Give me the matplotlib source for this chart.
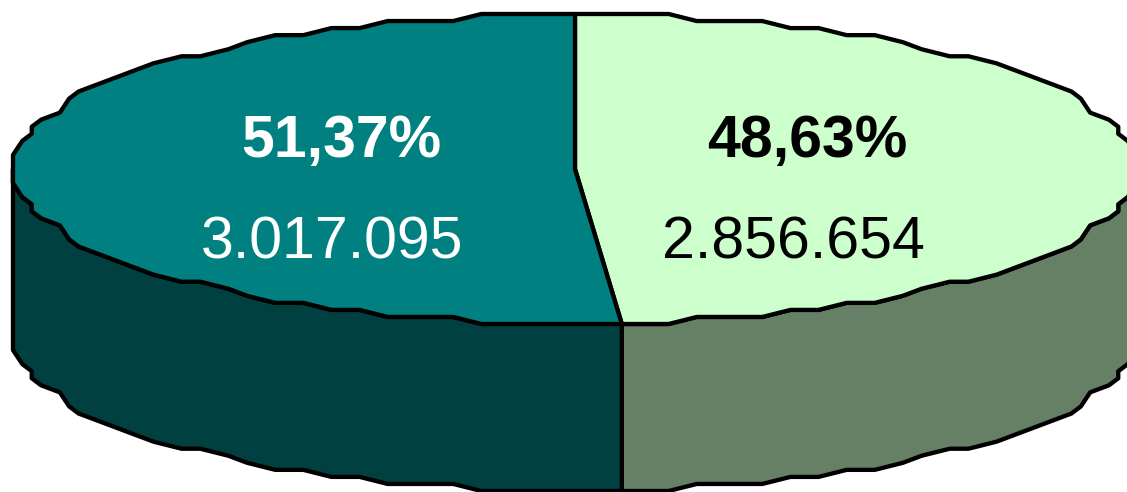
import numpy as np
import matplotlib
matplotlib.use("Agg")
import matplotlib.pyplot as plt

categories = ["A", "B"]
values = [2856654, 3017095]
percent_labels = ["48,63%", "51,37%"]
value_labels = ["2.856.654", "3.017.095"]
top_colors = ["#CCFFCC", "#008080"]
side_colors = ["#668066", "#004040"]
text_colors = ["black", "white"]

plt.rcParams["font.family"] = ["Liberation Sans", "DejaVu Sans"]
fig = plt.figure(figsize=(11.27, 4.92), dpi=100)
ax = fig.add_axes([0, 0, 1, 1])
ax.set_xlim(0, 1127)
ax.set_ylim(492, 0)
ax.axis("off")

cx, cy, rx, ry, depth = 575, 169, 562, 155, 167
lw = 3.1
step = 2 * np.pi / 112   # coarse polygon, as in the low-resolution original
grid_x, grid_y = rx / 60, 2 * ry / 44


def rim(a0, a1):
    """Clockwise angle from the top, projected on to the tilted disc and
    snapped to a coarse pixel grid to keep the original's jagged outline."""
    k0, k1 = int(np.ceil(a0 / step + 1e-9)), int(np.floor(a1 / step - 1e-9))
    t = np.concatenate([[a0], np.arange(k0, k1 + 1) * step, [a1]])
    x = cx + rx * np.sin(t)
    y = cy - ry * np.cos(t)
    x = np.round((x - (cx - rx)) / grid_x) * grid_x + (cx - rx)
    y = np.round((y - (cy - ry)) / grid_y) * grid_y + (cy - ry)
    return x, y


fractions = np.array(values) / sum(values)
edges = np.concatenate([[0], np.cumsum(fractions)]) * 2 * np.pi

# Visible side wall: front half of the rim only
for i in range(len(values)):
    a0 = max(edges[i], np.pi / 2)
    a1 = min(edges[i + 1], 3 * np.pi / 2)
    x, y = rim(a0, a1)
    px = np.concatenate([x, x[::-1]])
    py = np.concatenate([y, y[::-1] + depth])
    ax.fill(px, py, facecolor=side_colors[i], edgecolor="black", lw=lw, joinstyle="round", zorder=2)

# Top slices
for i in range(len(values)):
    x, y = rim(edges[i], edges[i + 1])
    px = np.concatenate([[cx], x])
    py = np.concatenate([[cy], y])
    ax.fill(px, py, facecolor=top_colors[i], edgecolor="black", lw=lw, joinstyle="round", zorder=3)

# Labels
label_x = [807, 341]
value_x = [793, 332]
for i in range(len(values)):
    ax.text(label_x[i], 142, percent_labels[i], color=text_colors[i], fontsize=42.5,
            fontweight="bold", ha="center", va="center", zorder=4)
    ax.text(value_x[i], 243, value_labels[i], color=text_colors[i],
            fontsize=42.5, ha="center", va="center", zorder=4)

fig.savefig("out.png", dpi=100)
